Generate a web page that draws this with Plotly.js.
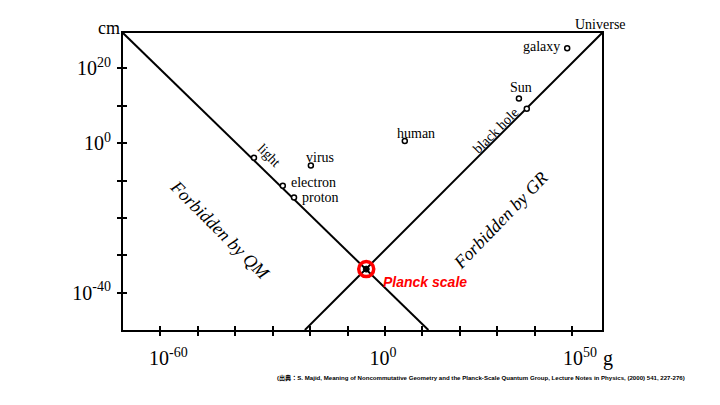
<!DOCTYPE html>
<html>
<head>
<meta charset="utf-8">
<script src="https://cdn.plot.ly/plotly-3.0.1.min.js"></script>
<style>html,body{margin:0;padding:0;background:#fff;}#chart{width:720px;height:405px;}</style>
</head>
<body>
<div id="chart"></div>
<script>
// All values are log10 exponents: mass in g, size in cm
const objectNames = ["light", "electron", "proton", "virus", "human", "black hole", "Sun", "galaxy"];
const objectLogMass = [-35.0, -27.3, -24.3, -19.8, 5.3, 37.9, 35.8, 48.7];
const objectLogSize = [-3.9, -11.4, -14.5, -6.0, 0.6, 9.2, 12.0, 25.4];

const planckLogMass = [-5.0];
const planckLogSize = [-33.7];

// Compton (QM) boundary and Schwarzschild (GR) boundary
const qmLineLogMass = [-70, 11.6];
const qmLineLogSize = [29.5, -50];
const grLineLogMass = [-21.4, 58];
const grLineLogSize = [-50, 29.5];

// label positions for objects (log10 units)
const labelLogMass = [-31.0, -19.2, -17.1, -17.4, 8.4, 29.7, 36.4, 41.9];
const labelLogSize = [-3.3, -10.4, -14.4, -3.9, 2.7, 3.3, 15.0, 26.0];
const labelAngles = [45, 0, 0, 0, 0, -45, 0, 0];

const xTickVals = [-60, -50, -40, -30, -20, -10, 0, 10, 20, 30, 40, 50];
const xTickText = ["10<sup>-60</sup>", "", "", "", "", "", "10<sup>0</sup>&nbsp;&nbsp;&nbsp;&nbsp;", "", "", "", "", "10<sup>50</sup>"];
const yTickVals = [-40, -30, -20, -10, 0, 10, 20];
const yTickText = ["10<sup>-40</sup>", "", "", "", "10<sup>0</sup>", "", "10<sup>20</sup>"];

const xRange = [-70, 58];
const yRange = [-50, 29.5];

const serif = "Liberation Serif, Times New Roman, serif";

const traces = [
  {x: qmLineLogMass, y: qmLineLogSize, mode: "lines", line: {color: "#000", width: 2}, hoverinfo: "skip"},
  {x: grLineLogMass, y: grLineLogSize, mode: "lines", line: {color: "#000", width: 2}, hoverinfo: "skip"},
  {x: objectLogMass, y: objectLogSize, mode: "markers",
   marker: {symbol: "circle", size: 5, color: "#fff", line: {color: "#000", width: 1.5}}, hoverinfo: "skip"},
  {x: planckLogMass, y: planckLogSize, mode: "markers",
   marker: {symbol: "circle", size: 6, color: "#000", line: {color: "#000", width: 1}}, hoverinfo: "skip"},
  {x: planckLogMass, y: planckLogSize, mode: "markers",
   marker: {symbol: "circle-open", size: 15, color: "#ff0000", line: {color: "#ff0000", width: 3.5}}, hoverinfo: "skip"},
  {x: [], y: [], xaxis: "x2", yaxis: "y2", mode: "markers", hoverinfo: "skip"}
];

const annotations = objectNames.map((n, i) => ({
  x: labelLogMass[i], y: labelLogSize[i], text: n, showarrow: false,
  textangle: labelAngles[i], font: {family: serif, size: 14, color: "#000"},
  xanchor: "center", yanchor: "middle"
}));

annotations.push(
  {xref: "paper", yref: "paper", x: 0.996, y: 1.030, text: "Universe", showarrow: false, font: {family: serif, size: 14, color: "#000"}, xanchor: "center", yanchor: "middle"},
  {xref: "paper", yref: "paper", x: -0.029, y: 1.017, text: "cm", showarrow: false, font: {family: serif, size: 18, color: "#000"}, xanchor: "center", yanchor: "middle"},
  {xref: "paper", yref: "paper", x: 0.997, y: -0.095, text: "g", showarrow: false, font: {family: serif, size: 20, color: "#000"}, xanchor: "left", yanchor: "middle"},
  {x: -44.1, y: -23.2, text: "<i>Forbidden by QM</i>", showarrow: false, textangle: 45, font: {family: serif, size: 18, color: "#000"}, xanchor: "center", yanchor: "middle"},
  {x: 31.0, y: -20.6, text: "<i>Forbidden by GR</i>", showarrow: false, textangle: -46, font: {family: serif, size: 18, color: "#000"}, xanchor: "center", yanchor: "middle"},
  {x: 10.7, y: -37.1, text: "<b><i>Planck scale</i></b>", showarrow: false, font: {family: "Liberation Sans, Arial, sans-serif", size: 14, color: "#ff0000"}, xanchor: "center", yanchor: "middle"},
  {xref: "paper", yref: "paper", x: 1.177, y: -0.162, text: "<b>(出典：S. Majid, Meaning of Noncommutative Geometry and the Planck-Scale Quantum Group, Lecture Notes in Physics, (2000) 541, 227-276)</b>",
   showarrow: false, font: {family: "Liberation Sans, Noto Sans CJK JP, sans-serif", size: 6.1, color: "#000"}, xanchor: "right", yanchor: "middle"}
);

const layout = {
  width: 720, height: 405,
  margin: {l: 123, r: 118, t: 33, b: 75},
  paper_bgcolor: "#fff", plot_bgcolor: "#fff",
  showlegend: false,
  xaxis: {range: xRange, showgrid: false, zeroline: false, showline: true, linecolor: "#000", linewidth: 2, mirror: true,
          tickmode: "array", tickvals: xTickVals, ticktext: xTickText, ticks: "outside", ticklen: 4, tickwidth: 2, tickcolor: "#000",
          tickfont: {family: serif, size: 20, color: "#000"}, ticklabelstandoff: 5, ticklabelshift: 8},
  yaxis: {range: yRange, showgrid: false, zeroline: false, showline: true, linecolor: "#000", linewidth: 2, mirror: true,
          tickmode: "array", tickvals: yTickVals, ticktext: yTickText, ticks: "outside", ticklen: 4, tickwidth: 2, tickcolor: "#000",
          tickfont: {family: serif, size: 20, color: "#000"}, ticklabelstandoff: 2},
  xaxis2: {range: xRange, overlaying: "x", showgrid: false, zeroline: false, showline: false,
           tickmode: "array", tickvals: xTickVals, ticks: "inside", ticklen: 4, tickwidth: 2, tickcolor: "#000", showticklabels: false},
  yaxis2: {range: yRange, overlaying: "y", showgrid: false, zeroline: false, showline: false,
           tickmode: "array", tickvals: yTickVals, ticks: "inside", ticklen: 4, tickwidth: 2, tickcolor: "#000", showticklabels: false},
  annotations: annotations
};

Plotly.newPlot("chart", traces, layout, {displayModeBar: false, staticPlot: true});
</script>
</body>
</html>
